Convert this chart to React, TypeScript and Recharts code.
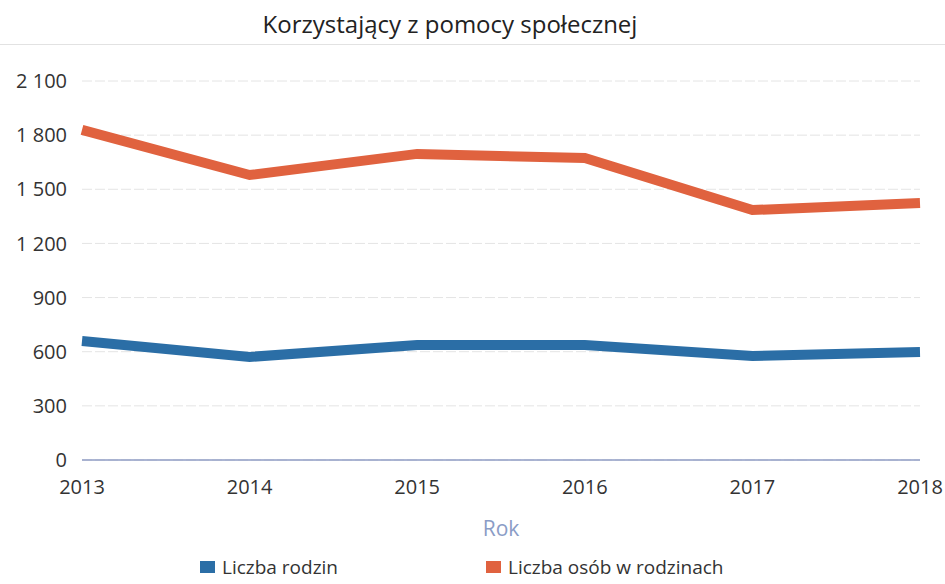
import React from "react";
import {
  LineChart,
  Line,
  XAxis,
  YAxis,
  CartesianGrid,
  Legend,
} from "recharts";

const years = ["2013", "2014", "2015", "2016", "2017", "2018"];
const liczbaRodzin = [659, 571, 637, 637, 576, 598];
const liczbaOsob = [1829, 1579, 1696, 1673, 1385, 1424];
const yTicks = [0, 300, 600, 900, 1200, 1500, 1800, 2100];

const series = [
  { key: "rodziny", name: "Liczba rodzin", color: "#2b6ea6", values: liczbaRodzin },
  { key: "osoby", name: "Liczba osób w rodzinach", color: "#e0623f", values: liczbaOsob },
];

const data = years.map((year, i) => ({
  year,
  rodziny: liczbaRodzin[i],
  osoby: liczbaOsob[i],
}));

const FONT = "'Open Sans', 'Noto Sans', sans-serif";

function formatThousands(v: number) {
  return String(v).replace(/\B(?=(\d{3})+(?!\d))/g, " ");
}

const LegendContent = () => (
  <div
    style={{
      display: "flex",
      justifyContent: "flex-start",
      paddingLeft: 200,
      fontFamily: FONT,
      fontSize: 19,
      color: "#333",
      lineHeight: "22px",
    }}
  >
    {series.map((s, i) => (
      <div
        key={s.key}
        style={{ display: "flex", alignItems: "center", marginRight: i === 0 ? 148 : 0 }}
      >
        <span
          style={{
            display: "inline-block",
            width: 15,
            height: 12,
            background: s.color,
            marginRight: 7,
          }}
        />
        <span>{s.name}</span>
      </div>
    ))}
  </div>
);

export default function App() {
  return (
    <div
      style={{
        position: "absolute",
        left: 0,
        top: 0,
        width: 945,
        height: 584,
        background: "#fff",
        fontFamily: FONT,
      }}
    >
      <div
        style={{
          position: "absolute",
          top: 7,
          left: 0,
          width: 900,
          textAlign: "center",
          fontSize: 24,
          color: "#222",
        }}
      >
        Korzystający z pomocy społecznej
      </div>
      <div
        style={{
          position: "absolute",
          top: 44,
          left: 0,
          width: 945,
          height: 1,
          background: "#e2e2e2",
        }}
      />
      <LineChart
        width={945}
        height={584}
        data={data}
        margin={{ top: 81, right: 25, left: 0, bottom: 0 }}
      >
        <CartesianGrid
          vertical={false}
          stroke="#e4e4e4"
          strokeDasharray="10 3"
        />
        <XAxis
          dataKey="year"
          axisLine={{ stroke: "#8f9cc4", strokeWidth: 1.5 }}
          tickLine={false}
          tickMargin={14}
          height={96}
          tick={{ fill: "#333", fontSize: 20, fontFamily: FONT }}
          interval={0}
          label={{
            value: "Rok",
            position: "insideBottom",
            offset: 20,
            fill: "#8a9cc6",
            fontSize: 21,
            fontFamily: FONT,
          }}
        />
        <YAxis
          domain={[0, 2100]}
          ticks={yTicks}
          width={82}
          axisLine={false}
          tickLine={false}
          tickMargin={9}
          tickFormatter={formatThousands}
          tick={{ fill: "#333", fontSize: 20, fontFamily: FONT }}
        />
        {series.map((s) => (
          <Line
            key={s.key}
            type="linear"
            dataKey={s.key}
            name={s.name}
            stroke={s.color}
            strokeWidth={10}
            dot={false}
            activeDot={false}
            isAnimationActive={false}
          />
        ))}
        <Legend
          verticalAlign="bottom"
          height={28}
          content={<LegendContent />}
        />
      </LineChart>
    </div>
  );
}
